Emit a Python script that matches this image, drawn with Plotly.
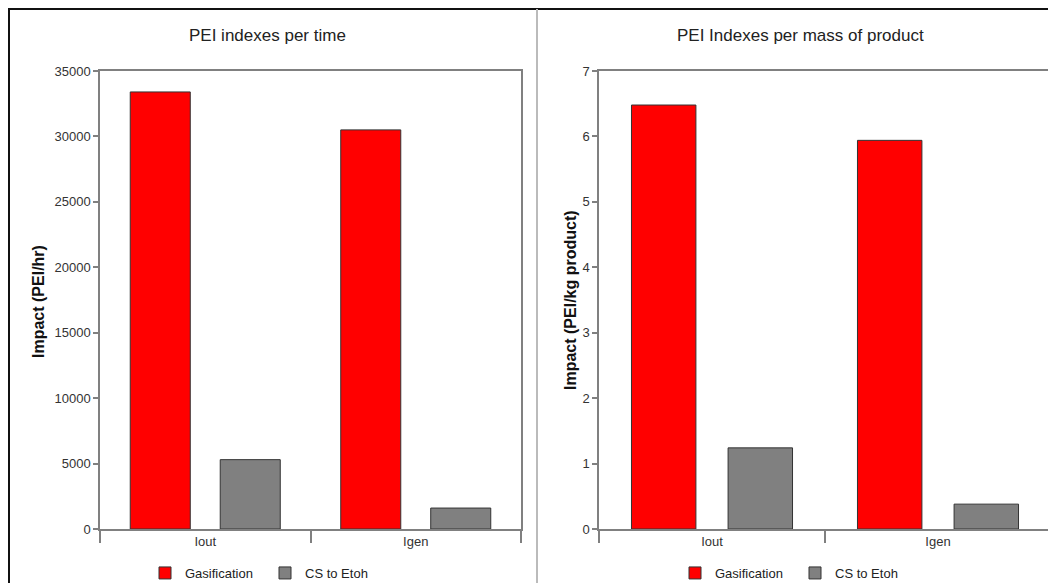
import plotly.graph_objects as go

W, H = 1056, 583

categories = ["Iout", "Igen"]
series_names = ["Gasification", "CS to Etoh"]
time_gas = [33400, 30500]
time_cs = [5300, 1600]
mass_gas = [6.48, 5.94]
mass_cs = [1.24, 0.38]
colors = ["#FF0000", "#808080"]

FONT = "Liberation Sans, Arial, sans-serif"
OFF = 8  # page body margin offset

def sx(p):
    return (p - OFF) / W

def sy(p):
    return 1 - (p - OFF) / H

fig = go.Figure()

for i, (name, vals) in enumerate(zip(series_names, [time_gas, time_cs])):
    fig.add_trace(go.Bar(x=categories, y=vals, name=name, marker_color=colors[i],
                         marker_line_color="#333333", marker_line_width=1,
                         xaxis="x", yaxis="y", legend="legend", offsetgroup=str(i)))
for i, (name, vals) in enumerate(zip(series_names, [mass_gas, mass_cs])):
    fig.add_trace(go.Bar(x=categories, y=vals, name=name, marker_color=colors[i],
                         marker_line_color="#333333", marker_line_width=1,
                         xaxis="x2", yaxis="y2", legend="legend2", offsetgroup=str(i)))

ydom = [sy(529), sy(71)]
axis_common = dict(showline=True, linecolor="#808080", linewidth=1.5, mirror=True,
                   showgrid=False, zeroline=False,
                   tickfont=dict(family=FONT, size=13, color="#333333"))
xaxis_common = dict(type="category", ticks="outside", tickson="boundaries", ticklen=12,
                    tickcolor="#808080", tickwidth=1.5, **axis_common)
yaxis_common = dict(ticks="outside", ticklen=5, tickcolor="#808080", tickwidth=1.5,
                    tickformat="d", **axis_common)
legend_common = dict(orientation="h", xanchor="left", yanchor="middle", y=sy(573),
                     entrywidth=75, entrywidthmode="pixels",
                     font=dict(family=FONT, size=13, color="#222222"),
                     bgcolor="rgba(0,0,0,0)")

fig.update_layout(
    width=W, height=H,
    margin=dict(l=0, r=0, t=0, b=0, autoexpand=False),
    paper_bgcolor="white", plot_bgcolor="white",
    barmode="group", bargap=0.145, bargroupgap=0.333,
    font=dict(family=FONT, color="#222222"),
    xaxis=dict(domain=[sx(100), sx(521)], anchor="y", **xaxis_common),
    yaxis=dict(domain=ydom, anchor="x", range=[0, 35000], dtick=5000, **yaxis_common),
    xaxis2=dict(domain=[sx(599), sx(1051)], anchor="y2", **xaxis_common),
    yaxis2=dict(domain=ydom, anchor="x2", range=[0, 7], dtick=1, **yaxis_common),
    legend=dict(x=sx(145), **legend_common),
    legend2=dict(x=sx(675), **legend_common),
)

annotations = [
    dict(text="PEI indexes per time", x=sx(267), y=sy(35),
         font=dict(family=FONT, size=17, color="#222222")),
    dict(text="PEI Indexes per mass of product", x=sx(800), y=sy(35),
         font=dict(family=FONT, size=17, color="#222222")),
    dict(text="<b>Impact (PEI/hr)</b>", x=sx(38), y=sy(302), textangle=-90,
         font=dict(family=FONT, size=16, color="#111111")),
    dict(text="<b>Impact (PEI/kg product)</b>", x=sx(570), y=sy(300), textangle=-90,
         font=dict(family=FONT, size=16, color="#111111")),
]
for a in annotations:
    a.update(xref="paper", yref="paper", showarrow=False, xanchor="center", yanchor="middle")
fig.update_layout(annotations=annotations)

shapes = [
    dict(type="line", x0=sx(8), x1=1, y0=sy(9), y1=sy(9), line=dict(color="#111111", width=2)),
    dict(type="line", x0=sx(9), x1=sx(9), y0=sy(8), y1=0, line=dict(color="#111111", width=2)),
    dict(type="line", x0=sx(537), x1=sx(537), y0=sy(9), y1=0, line=dict(color="#BBBBBB", width=2)),
]
for s in shapes:
    s.update(xref="paper", yref="paper")
fig.update_layout(shapes=shapes)

fig.write_html("out.html")
